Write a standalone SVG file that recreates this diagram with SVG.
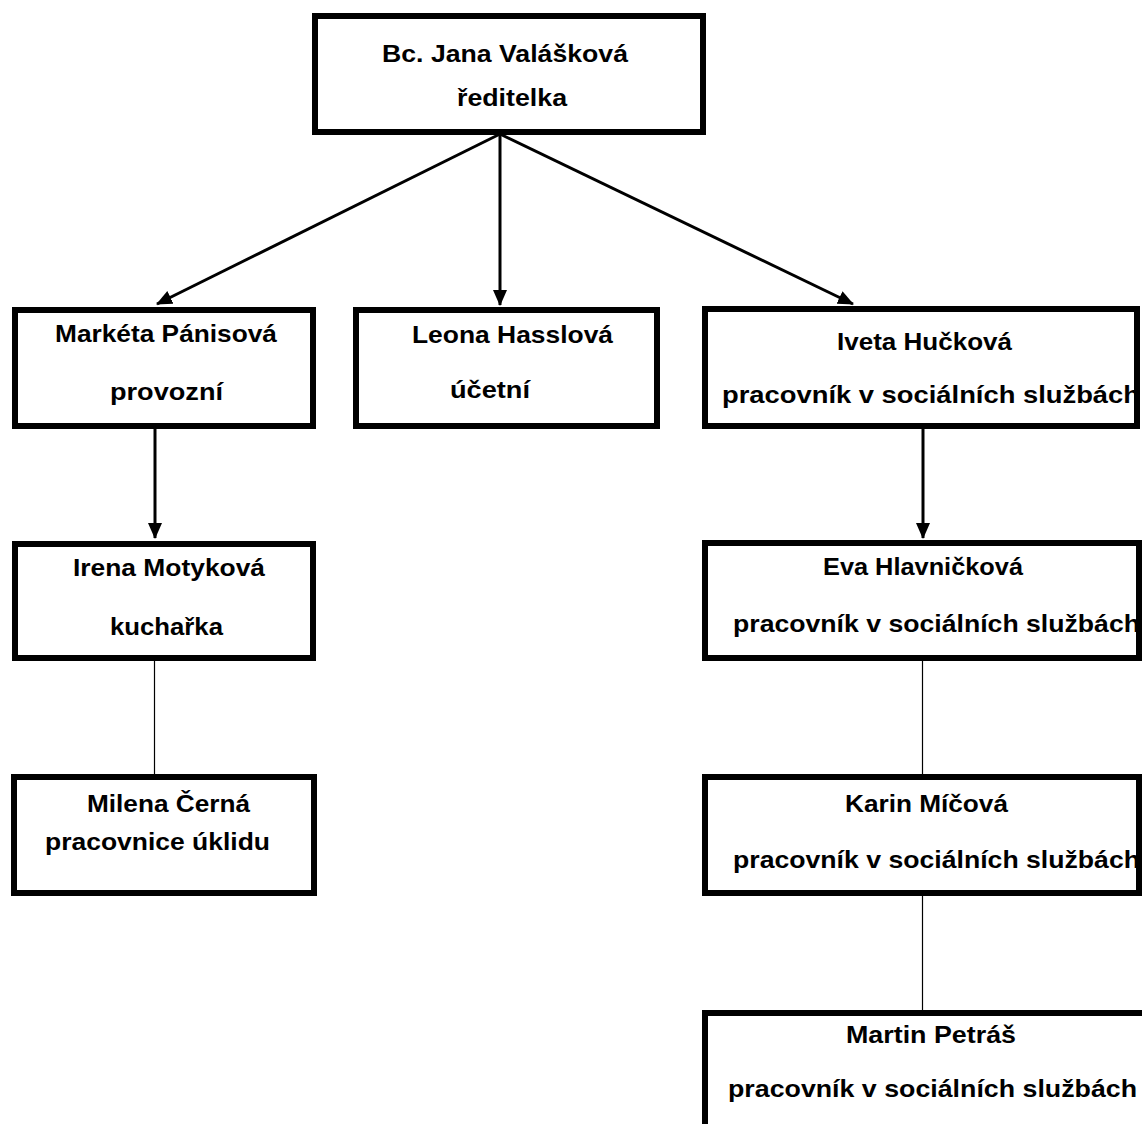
<svg xmlns="http://www.w3.org/2000/svg" width="1142" height="1124" viewBox="0 0 1142 1124">
<style>
.box{fill:#fff;stroke:#000;stroke-width:6}
.t{font-family:"Liberation Sans",Arial,sans-serif;font-weight:bold;font-size:24px;fill:#000}
.arr{stroke:#000;stroke-width:3;fill:none}
.thin{stroke:#000;stroke-width:1.2;fill:none}
</style>
<defs>
<marker id="ah" markerUnits="userSpaceOnUse" markerWidth="16" markerHeight="14" refX="15" refY="7" orient="auto">
<path d="M0,0 L16,7 L0,14 z" fill="#000"/>
</marker>
</defs>
<rect width="1142" height="1124" fill="#fff"/>
<g id="connectors">
<line class="arr" x1="500" y1="134" x2="157" y2="304" marker-end="url(#ah)"/>
<line class="arr" x1="500" y1="134" x2="500" y2="305" marker-end="url(#ah)"/>
<line class="arr" x1="500" y1="134" x2="853" y2="304" marker-end="url(#ah)"/>
<line class="arr" x1="155" y1="428" x2="155" y2="538" marker-end="url(#ah)"/>
<line class="arr" x1="923" y1="428" x2="923" y2="538" marker-end="url(#ah)"/>
<line class="thin" x1="154.5" y1="655" x2="154.5" y2="777"/>
<line class="thin" x1="922.5" y1="655" x2="922.5" y2="777"/>
<line class="thin" x1="922.5" y1="890" x2="922.5" y2="1013"/>
</g>
<g id="n-valaskova">
<rect class="box" x="315" y="16" width="388" height="116"/>
<text class="t" x="382" y="62" textLength="246" lengthAdjust="spacingAndGlyphs">Bc. Jana Valášková</text>
<text class="t" x="457" y="106" textLength="110" lengthAdjust="spacingAndGlyphs">ředitelka</text>
</g>
<g id="n-panisova">
<rect class="box" x="15" y="310" width="298" height="116"/>
<text class="t" x="55" y="342" textLength="222" lengthAdjust="spacingAndGlyphs">Markéta Pánisová</text>
<text class="t" x="110" y="400" textLength="113" lengthAdjust="spacingAndGlyphs">provozní</text>
</g>
<g id="n-hasslova">
<rect class="box" x="356" y="310" width="301" height="116"/>
<text class="t" x="412" y="343" textLength="201" lengthAdjust="spacingAndGlyphs">Leona Hasslová</text>
<text class="t" x="450" y="398" textLength="80" lengthAdjust="spacingAndGlyphs">účetní</text>
</g>
<g id="n-huckova">
<rect class="box" x="705" y="309" width="432" height="117"/>
<text class="t" x="837" y="350" textLength="175" lengthAdjust="spacingAndGlyphs">Iveta Hučková</text>
<text class="t" x="722" y="403" textLength="418" lengthAdjust="spacingAndGlyphs">pracovník v sociálních službách</text>
</g>
<g id="n-motykova">
<rect class="box" x="15" y="544" width="298" height="114"/>
<text class="t" x="73" y="576" textLength="192" lengthAdjust="spacingAndGlyphs">Irena Motyková</text>
<text class="t" x="110" y="635" textLength="113" lengthAdjust="spacingAndGlyphs">kuchařka</text>
</g>
<g id="n-hlavnickova">
<rect class="box" x="705" y="543" width="434" height="115"/>
<text class="t" x="823" y="575" textLength="200" lengthAdjust="spacingAndGlyphs">Eva Hlavničková</text>
<text class="t" x="733" y="632" textLength="407" lengthAdjust="spacingAndGlyphs">pracovník v sociálních službách</text>
</g>
<g id="n-cerna">
<rect class="box" x="14" y="777" width="300" height="116"/>
<text class="t" x="87" y="812" textLength="163" lengthAdjust="spacingAndGlyphs">Milena Černá</text>
<text class="t" x="45" y="850" textLength="225" lengthAdjust="spacingAndGlyphs">pracovnice úklidu</text>
</g>
<g id="n-micova">
<rect class="box" x="705" y="777" width="434" height="116"/>
<text class="t" x="845" y="812" textLength="163" lengthAdjust="spacingAndGlyphs">Karin Míčová</text>
<text class="t" x="733" y="868" textLength="407" lengthAdjust="spacingAndGlyphs">pracovník v sociálních službách</text>
</g>
<g id="n-petras">
<rect class="box" x="705" y="1013" width="480" height="200"/>
<text class="t" x="846" y="1043" textLength="170" lengthAdjust="spacingAndGlyphs">Martin Petráš</text>
<text class="t" x="728" y="1097" textLength="409" lengthAdjust="spacingAndGlyphs">pracovník v sociálních službách</text>
</g>
</svg>
